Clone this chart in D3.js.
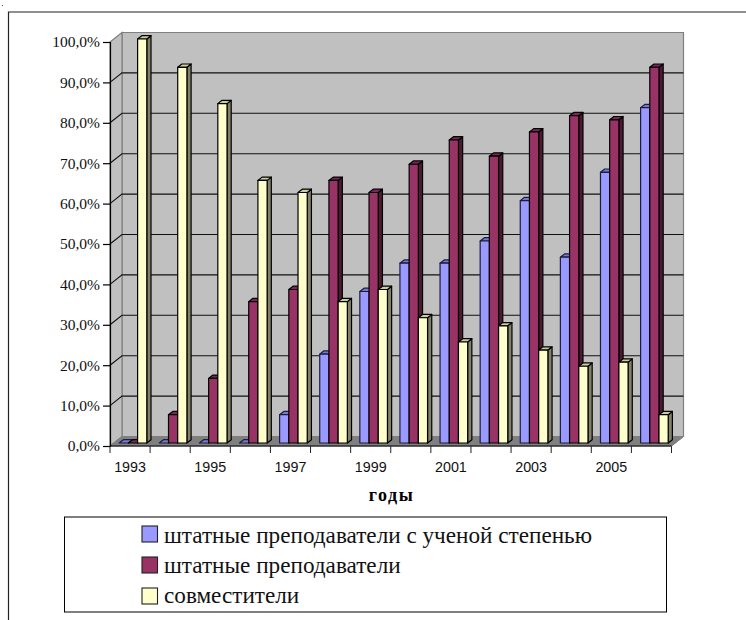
<!DOCTYPE html>
<html>
<head>
<meta charset="utf-8">
<script src="https://cdn.jsdelivr.net/npm/d3@7"></script>
<style>
  html, body { margin: 0; padding: 0; background: #fff; }
  svg { display: block; }
</style>
</head>
<body>
<div id="chart"></div>
<script>
const years = [1993, 1994, 1995, 1996, 1997, 1998, 1999, 2000, 2001, 2002, 2003, 2004, 2005, 2006];
const yTicks = [0, 10, 20, 30, 40, 50, 60, 70, 80, 90, 100];
const seriesNames = [
  "штатные преподаватели с ученой степенью",
  "штатные преподаватели",
  "совместители",
];
const withDegree = [0, 0, 0, 0, 7, 22, 37.5, 44.5, 44.5, 50, 60, 46, 67, 83];
const staff = [0, 7, 16, 35, 38, 65, 62, 69, 75, 71, 77, 81, 80, 93];
const partTime = [100, 93, 84, 65, 62, 35, 38, 31, 25, 29, 23, 19, 20, 7];
const seriesValues = [withDegree, staff, partTime];
const seriesColors = [
  { front: "#9999ff", side: "#5c5c99", top: "#7a7acc", stroke: "#1c1c40" },
  { front: "#993366", side: "#4d1a33", top: "#7a2952", stroke: "#000" },
  { front: "#ffffcc", side: "#80806b", top: "#cccca3", stroke: "#000" },
];

const width = 746;
const height = 620;
const depthX = 12;
const depthY = 9.5;

const svg = d3.select("#chart").append("svg")
  .attr("width", width)
  .attr("height", height);

const x = d3.scaleBand().domain(years).range([110, 671.5]);
const y = d3.scaleLinear().domain([0, 100]).range([446, 42]);

const serif = "'Liberation Serif', serif";
const sans = "'Liberation Sans', sans-serif";

// outer frame, open on the right and at the bottom
svg.append("path")
  .attr("d", "M8.5,620V12H" + width)
  .attr("fill", "none")
  .attr("stroke", "#222")
  .attr("stroke-width", 1.2);
svg.append("rect").attr("x", 2).attr("y", 5).attr("width", 1).attr("height", 1).attr("fill", "#555");

// walls
const x0 = x.range()[0];
const x1 = x.range()[1];
const poly = (pts) => "M" + pts.map((p) => p.join(",")).join("L") + "Z";

svg.append("path")
  .attr("d", poly([[x0 + depthX, y(100) - depthY], [x1 + depthX, y(100) - depthY], [x1 + depthX, y(0) - depthY], [x0 + depthX, y(0) - depthY]]))
  .attr("fill", "#c0c0c0")
  .attr("stroke", "#808080")
  .attr("stroke-width", 1.2);
svg.append("path")
  .attr("d", poly([[x0, y(100)], [x0 + depthX, y(100) - depthY], [x0 + depthX, y(0) - depthY], [x0, y(0)]]))
  .attr("fill", "#c0c0c0")
  .attr("stroke", "#808080")
  .attr("stroke-width", 1.2);
svg.append("path")
  .attr("d", poly([[x0, y(0)], [x0 + depthX, y(0) - depthY], [x1 + depthX, y(0) - depthY], [x1, y(0)]]))
  .attr("fill", "#808080")
  .attr("stroke", "#808080");

// gridlines on the back and side walls
const grid = svg.append("g").attr("fill", "none").attr("stroke", "#111").attr("stroke-width", 1.1);
yTicks.filter((t) => t > 0 && t < 100).forEach((t) => {
  grid.append("path")
    .attr("d", `M${x0},${y(t)}L${x0 + depthX},${y(t) - depthY}H${x1 + depthX}`);
});

// bars share one depth so drawing order is left to right
const barWidth = 9.2;
const barOffset = 9.2;
const barDepthX = 4.2;
const barDepthY = 3.3;
const shiftY = 3;

const bars = svg.append("g").attr("stroke-width", 1.2).attr("stroke-linejoin", "round");
years.forEach((year, i) => {
  seriesValues.forEach((values, s) => {
    const c = seriesColors[s];
    const left = x(year) + barOffset + s * barWidth;
    const right = left + barWidth;
    const top = y(values[i]) - shiftY;
    const bottom = y(0) - shiftY;
    const g = bars.append("g").attr("stroke", c.stroke);
    g.append("path")
      .attr("d", poly([[right, top], [right + barDepthX, top - barDepthY], [right + barDepthX, bottom - barDepthY], [right, bottom]]))
      .attr("fill", c.side);
    g.append("path")
      .attr("d", poly([[left, top], [left + barDepthX, top - barDepthY], [right + barDepthX, top - barDepthY], [right, top]]))
      .attr("fill", c.top);
    g.append("rect")
      .attr("x", left)
      .attr("y", top)
      .attr("width", barWidth)
      .attr("height", bottom - top)
      .attr("fill", c.front);
  });
});

// axes
const yAxis = d3.axisLeft(y)
  .tickValues(yTicks)
  .tickSize(7)
  .tickPadding(3)
  .tickFormat((d) => d.toFixed(1).replace(".", ",") + "%");
const yG = svg.append("g").attr("transform", `translate(${x0},0)`).call(yAxis);
yG.selectAll("text").attr("font-family", serif).attr("font-size", 15.5).attr("fill", "#111");
yG.selectAll("line").attr("stroke-width", 1.2);
yG.select(".domain").attr("stroke-width", 1.2);

const step = x.step();
const xAxisG = svg.append("g").attr("transform", `translate(0,${y(0)})`);
xAxisG.append("path").attr("d", `M${x0},0H${x1}`).attr("stroke", "#000").attr("stroke-width", 1.2);
xAxisG.selectAll("line")
  .data(d3.range(years.length + 1))
  .join("line")
  .attr("x1", (d) => x0 + d * step)
  .attr("x2", (d) => x0 + d * step)
  .attr("y1", 0)
  .attr("y2", 7)
  .attr("stroke", "#222");
xAxisG.append("path")
  .attr("d", `M${x1},0L${x1 + depthX},${-depthY}`)
  .attr("stroke", "#808080");
xAxisG.selectAll("text")
  .data(years.filter((d, i) => i % 2 === 0))
  .join("text")
  .attr("x", (d) => x(d) + step / 2)
  .attr("y", 26)
  .attr("text-anchor", "middle")
  .attr("font-family", sans)
  .attr("font-size", 14.3)
  .attr("fill", "#111")
  .text((d) => d);

svg.append("text")
  .attr("x", 391.5)
  .attr("y", 500.5)
  .attr("text-anchor", "middle")
  .attr("font-family", serif)
  .attr("font-size", 18)
  .attr("font-weight", "bold")
  .attr("letter-spacing", 1.5)
  .text("годы");

// legend
const legend = svg.append("g");
legend.append("rect")
  .attr("x", 64.5).attr("y", 517)
  .attr("width", 602).attr("height", 95)
  .attr("fill", "#fff").attr("stroke", "#000");
seriesNames.forEach((name, i) => {
  const top = 526 + i * 31;
  legend.append("rect")
    .attr("x", 142).attr("y", top)
    .attr("width", 15.5).attr("height", 16)
    .attr("fill", seriesColors[i].front)
    .attr("stroke", "#222").attr("stroke-width", 1.1);
  legend.append("text")
    .attr("x", 164).attr("y", 542.7 + i * 30.3)
    .attr("font-family", serif)
    .attr("font-size", 23.2)
    .attr("fill", "#111")
    .text(name);
});
</script>
</body>
</html>
